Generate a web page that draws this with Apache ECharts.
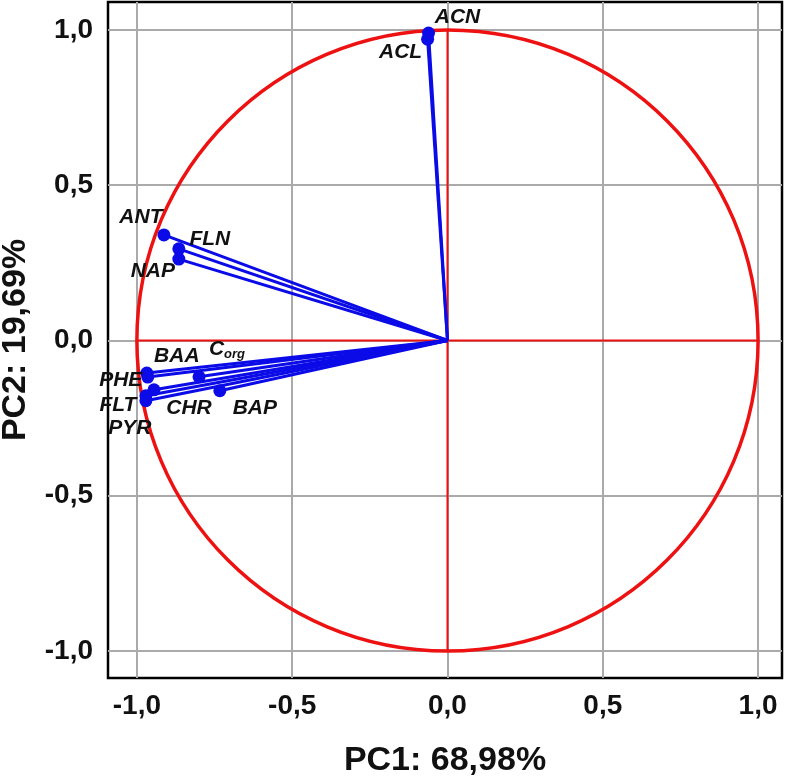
<!DOCTYPE html>
<html><head><meta charset="utf-8">
<script src="https://cdn.jsdelivr.net/npm/echarts@6/dist/echarts.min.js"></script>
<style>html,body{margin:0;padding:0;background:#fff}#c{width:788px;height:778px}</style>
</head><body><div id="c"></div>
<script>
var names = ['ACN','ACL','ANT','FLN','NAP','BAA','PHE','Corg','CHR','BAP','FLT','PYR'];
var pc1 = [-0.061,-0.064,-0.913,-0.865,-0.865,-0.968,-0.965,-0.800,-0.945,-0.733,-0.971,-0.971];
var pc2 = [0.990,0.970,0.340,0.295,0.262,-0.105,-0.118,-0.117,-0.159,-0.162,-0.178,-0.194];
var tickValues = [-1,-0.5,0,0.5,1];
var tickLabels = ['-1,0','-0,5','0,0','0,5','1,0'];
var labelOffsets = [[29,-16],[-27,13],[-23,-18],[31,-10],[-26,12],[30,-17],[-27,3],[28,-28],[35,18],[35,17],[-28,9],[-16,27]];

var blue = '#0b0be8', red = '#ee1111', grey = '#aaaaaa';
var FF = 'Liberation Sans, Arial, Helvetica, sans-serif';
function fmt(v){ var i = tickValues.findIndex(function(t){return Math.abs(t-v)<1e-6;}); return i<0?'':tickLabels[i]; }

var series = [];
series.push({
  type:'custom', silent:true, z:3,
  data:[[0,0]],
  renderItem:function(params, api){
    var c = api.coord([0,0]);
    var s = api.size([1,1]);
    var p1 = api.coord([-1,0]), p2 = api.coord([1,0]), p3 = api.coord([0,1]), p4 = api.coord([0,-1]);
    return {type:'group', children:[
      {type:'line', shape:{x1:p1[0],y1:p1[1],x2:p2[0],y2:p2[1]}, style:{stroke:red,lineWidth:2}},
      {type:'line', shape:{x1:p3[0],y1:p3[1],x2:p4[0],y2:p4[1]}, style:{stroke:red,lineWidth:2}},
      {type:'ellipse', shape:{cx:c[0],cy:c[1],rx:s[0],ry:s[1]}, style:{stroke:red,fill:null,lineWidth:3.5}}
    ]};
  }
});
for (var i=0;i<names.length;i++){
  var isC = names[i]==='Corg';
  series.push({
    type:'line', z:5,
    data:[{value:[0,0],symbolSize:0,label:{show:false}},
          {value:[pc1[i],pc2[i]],symbolSize:13,label:{show:true}}],
    symbol:'circle',
    showSymbol:true,
    lineStyle:{color:blue,width:3},
    itemStyle:{color:blue,borderWidth:0},
    animation:false,
    label:{
      position:'inside',
      offset:labelOffsets[i],
      formatter: isC ? '{c|C}{s|org}' : names[i],
      color:'#111', fontSize:21, fontWeight:'bold', fontStyle:'italic', fontFamily:FF,
      rich:{c:{fontSize:21,fontWeight:'bold',fontStyle:'italic',fontFamily:FF,color:'#111'},
            s:{fontSize:13,fontWeight:'bold',fontStyle:'italic',fontFamily:FF,color:'#111',verticalAlign:'bottom',padding:[11,0,0,0]}}
    }
  });
}

var chart = echarts.init(document.getElementById('c'), null, {renderer:'canvas'});
chart.setOption({
  animation:false,
  backgroundColor:'#fff',
  grid:{left:108,right:6,top:2,bottom:100,show:true,borderColor:'#000',borderWidth:2.5,backgroundColor:'transparent',containLabel:false,outerBoundsMode:'none'},
  xAxis:{type:'value',min:-1.093,max:1.077,
    axisTick:{show:false,customValues:tickValues},
    axisLabel:{customValues:tickValues,formatter:fmt,color:'#111',fontSize:28,fontWeight:'bold',fontFamily:FF,margin:14},
    axisLine:{show:false},
    splitLine:{show:true,lineStyle:{color:grey,width:2}},
    name:'PC1: 68,98%',nameLocation:'middle',nameGap:66,
    nameTextStyle:{fontSize:34,fontWeight:'bold',color:'#111',fontFamily:FF}
  },
  yAxis:{type:'value',min:-1.087,max:1.090,
    axisTick:{show:false,customValues:tickValues},
    axisLabel:{customValues:tickValues,formatter:fmt,color:'#111',fontSize:28,fontWeight:'bold',fontFamily:FF,margin:15},
    axisLine:{show:false},
    splitLine:{show:true,lineStyle:{color:grey,width:2}},
    name:'PC2: 19,69%',nameLocation:'middle',nameGap:75,nameRotate:90,
    nameTextStyle:{fontSize:34,fontWeight:'bold',color:'#111',fontFamily:FF}
  },
  series:series
});
</script></body></html>
